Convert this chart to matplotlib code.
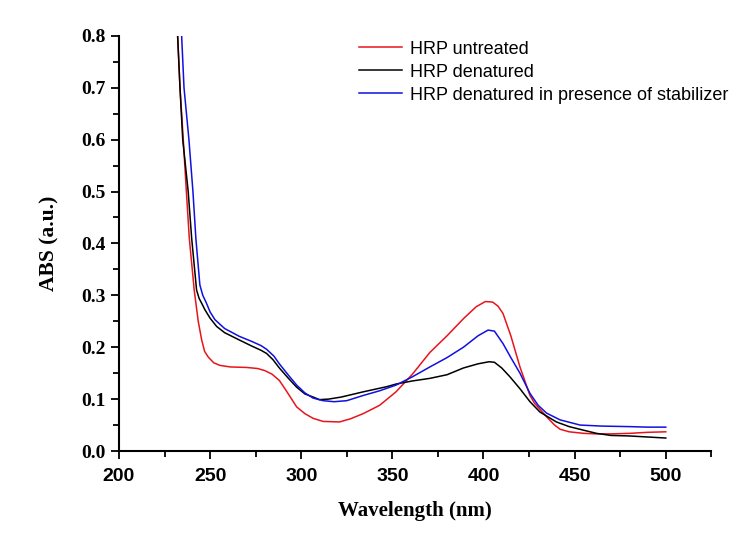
import numpy as np
import matplotlib.pyplot as plt
from matplotlib.ticker import MultipleLocator

# HRP untreated (red)
wl_untreated = [232.2, 233.5, 235.3, 237.0, 238.6, 241.3, 243.5, 245.4, 247.0, 249.0,
                252.0, 255.4, 261.0, 270.0, 276.0, 280.0, 284.0, 288.0, 292.0, 297.5, 302.0,
                306.5, 312.0, 321.0, 327.0, 334.0, 343.0, 352.0, 361.0, 370.6, 380.0,
                389.0, 396.0, 401.0, 405.0, 408.0, 410.7, 415.0, 420.0, 425.5, 428.0, 434.6,
                439.0, 442.0, 447.0, 455.0, 462.0, 470.0, 480.0, 490.0, 500.0]
abs_untreated = [0.80, 0.70, 0.60, 0.50, 0.41, 0.31, 0.25, 0.214, 0.192, 0.181,
                 0.170, 0.165, 0.162, 0.161, 0.159, 0.155, 0.148, 0.136, 0.115, 0.085, 0.072,
                 0.063, 0.057, 0.056, 0.062, 0.072, 0.088, 0.114, 0.148, 0.190, 0.222,
                 0.255, 0.278, 0.288, 0.287, 0.279, 0.265, 0.222, 0.162, 0.107, 0.092, 0.066,
                 0.050, 0.042, 0.037, 0.034, 0.033, 0.033, 0.034, 0.036, 0.037]

# HRP denatured (black)
wl_denatured = [232.2, 233.5, 235.0, 238.0, 239.9, 242.6, 244.0, 245.5, 247.2, 250.0, 253.6,
                258.0, 266.0, 273.0, 278.0, 281.0, 284.5, 288.0, 293.0, 297.5, 302.0, 306.5,
                310.0, 315.0, 322.0, 334.0, 347.0, 352.0, 361.0, 370.6, 380.0, 389.0,
                397.0, 403.0, 406.0, 410.0, 414.5, 420.0, 425.5, 431.0, 440.0, 447.0,
                455.0, 462.0, 470.0, 480.0, 490.0, 500.0]
abs_denatured = [0.80, 0.70, 0.60, 0.50, 0.41, 0.31, 0.294, 0.284, 0.272, 0.256, 0.240,
                 0.228, 0.214, 0.202, 0.194, 0.188, 0.176, 0.160, 0.140, 0.123, 0.110, 0.104,
                 0.099, 0.100, 0.104, 0.114, 0.124, 0.129, 0.135, 0.140, 0.147, 0.160,
                 0.168, 0.172, 0.171, 0.160, 0.143, 0.120, 0.095, 0.075, 0.056, 0.047,
                 0.040, 0.034, 0.030, 0.029, 0.027, 0.025]

# HRP denatured in presence of stabilizer (blue)
wl_stabilized = [234.4, 235.7, 238.4, 240.6, 242.2, 244.4, 246.0, 248.0, 250.0, 252.7,
                 258.0, 266.0, 273.0, 278.0, 281.0, 285.0, 288.0, 293.0, 297.5, 302.0, 306.5,
                 312.0, 318.0, 325.0, 334.0, 343.0, 352.0, 361.0, 370.6, 380.0, 389.0,
                 397.0, 402.5, 406.0, 410.7, 415.0, 420.0, 425.5, 430.0, 434.6, 442.0,
                 453.0, 465.0, 480.0, 490.0, 500.0]
abs_stabilized = [0.80, 0.70, 0.60, 0.50, 0.41, 0.32, 0.300, 0.285, 0.268, 0.253,
                  0.236, 0.221, 0.211, 0.203, 0.196, 0.183, 0.168, 0.146, 0.127, 0.112, 0.102,
                  0.097, 0.095, 0.097, 0.107, 0.116, 0.127, 0.143, 0.162, 0.180, 0.200,
                  0.222, 0.233, 0.231, 0.207, 0.180, 0.150, 0.111, 0.088, 0.073, 0.060,
                  0.050, 0.048, 0.047, 0.046, 0.046]

labels = ['HRP untreated', 'HRP denatured', 'HRP denatured in presence of stabilizer']

fig = plt.figure(figsize=(7.48, 5.35), dpi=100)
ax = fig.add_axes([0.159, 0.157, 0.792, 0.776])

ax.plot(wl_untreated, abs_untreated, color='#e8141c', lw=1.1, label=labels[0])
ax.plot(wl_denatured, abs_denatured, color='black', lw=1.1, label=labels[1])
ax.plot(wl_stabilized, abs_stabilized, color='#1010e0', lw=1.1, label=labels[2])

ax.set_xlim(200, 525)
ax.set_ylim(0, 0.8)
ax.xaxis.set_major_locator(MultipleLocator(50))
ax.xaxis.set_minor_locator(MultipleLocator(25))
ax.yaxis.set_major_locator(MultipleLocator(0.1))
ax.yaxis.set_minor_locator(MultipleLocator(0.05))

for s in ['top', 'right']:
    ax.spines[s].set_visible(False)
for s in ['left', 'bottom']:
    ax.spines[s].set_linewidth(1.5)

ax.tick_params(which='major', direction='out', length=6, width=1.3)
ax.tick_params(which='minor', direction='out', length=4, width=1.3)
ax.tick_params(axis='x', which='major', pad=6)

xt = [200, 250, 300, 350, 400, 450, 500]
ax.set_xticks(xt)
ax.set_xticklabels([str(v) for v in xt], fontfamily='Liberation Sans', fontweight='bold', fontsize=14)
yt = np.round(np.arange(0, 0.81, 0.1), 1)
ax.set_yticks(yt)
ax.set_yticklabels([f'{v:.1f}' for v in yt], fontfamily='Liberation Serif', fontweight='bold', fontsize=14)

ax.set_xlabel('Wavelength (nm)', fontfamily='Liberation Serif', fontweight='bold', fontsize=15, labelpad=12)
ax.set_ylabel('ABS (a.u.)', fontfamily='Liberation Serif', fontweight='bold', fontsize=15.5, labelpad=16)

ax.legend(loc='upper left', bbox_to_anchor=(0.39, 1.01), frameon=False,
          prop={'family': 'Liberation Sans', 'size': 13}, handlelength=2.4,
          handletextpad=0.4, labelspacing=0.33, borderpad=0)

fig.savefig('out.png', dpi=100)
